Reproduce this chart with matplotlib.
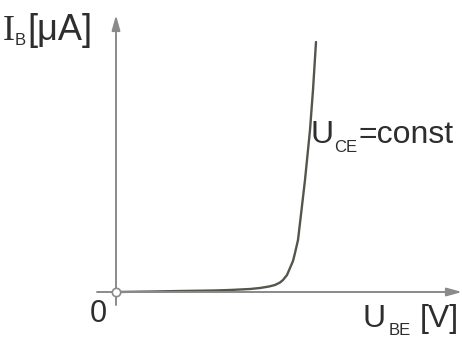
import numpy as np
import matplotlib.pyplot as plt

# input characteristic I_B(U_BE) of a transistor, arbitrary units
u_be = [3, 40, 66, 100, 116, 136, 146, 155, 161, 166, 169, 173, 176, 179, 181, 184, 186, 191, 196, 199, 202]
i_b = [0, 0.5, 1, 1.5, 2, 3, 4, 5.5, 7, 9.5, 12, 17, 24, 31, 39, 52, 69, 112, 162, 202, 250]

x_label = "U"
x_sub = "BE"
x_unit = "[V]"
y_label = "I"
y_sub = "B"
y_unit = "[μA]"
curve_label = "U"
curve_sub = "CE"
curve_rest = "=const"


def main():
    plt.rcParams['font.family'] = ['Liberation Sans', 'DejaVu Sans']
    fig = plt.figure(figsize=(4.64, 3.40), dpi=100)
    ax = fig.add_axes([0, 0, 1, 1])
    ax.set_xlim(-114, 350)
    ax.set_ylim(-48, 292)
    ax.axis("off")

    axis_col = "#8a8a8a"
    text_col = "#2e2e2e"

    # axes with arrows
    ax.annotate("", xy=(348, 0), xytext=(-17, 0),
                arrowprops=dict(arrowstyle="-|>,head_length=0.9,head_width=0.25",
                                color=axis_col, lw=1.4, shrinkA=0, shrinkB=0))
    ax.annotate("", xy=(2, 277), xytext=(2, -13),
                arrowprops=dict(arrowstyle="-|>,head_length=0.9,head_width=0.25",
                                color=axis_col, lw=1.4, shrinkA=0, shrinkB=0))

    ax.plot(u_be, i_b, color="#55554c", lw=1.7, solid_capstyle="round")
    ax.plot([2], [0], "o", ms=6, mfc="white", mec=axis_col, mew=1.2, zorder=5)

    kw = dict(color=text_col, va="baseline")

    # the reference draws the I with serifs
    ax.text(-111, 252, y_label, fontsize=26, family=['Liberation Serif', 'DejaVu Serif'], **kw)
    ax.text(-99, 247, y_sub, fontsize=12, **kw)
    ax.text(-87, 252, y_unit, fontsize=26, **kw)

    ax.text(197, 149, curve_label, fontsize=23, **kw)
    ax.text(220, 140, curve_sub, fontsize=12, **kw)
    ax.text(245, 149, curve_rest, fontsize=23, **kw)

    ax.text(-24, -30, "0", fontsize=22, **kw)

    ax.text(249, -35, x_label, fontsize=23, **kw)
    ax.text(275, -43, x_sub, fontsize=12, **kw)
    ax.text(306, -35, x_unit, fontsize=23, **kw)

    fig.savefig("out.png", dpi=100)


if __name__ == '__main__':
    main()
